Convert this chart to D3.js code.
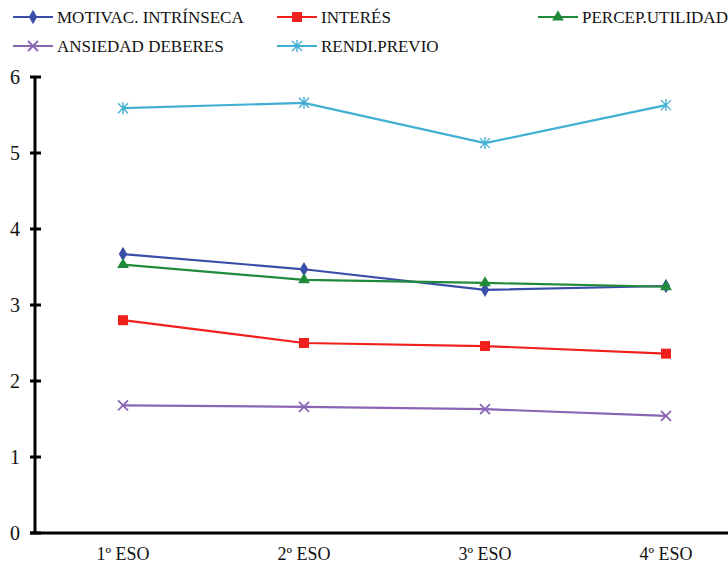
<!DOCTYPE html>
<html>
<head>
<meta charset="utf-8">
<script src="https://cdn.jsdelivr.net/npm/d3@7"></script>
<style>
  body { margin: 0; background: #fff; }
  svg { display: block; }
  svg text { font-family: "Times New Roman", "Liberation Serif", "DejaVu Serif", serif; }
</style>
</head>
<body>
<div id="chart"></div>
<script>
// data
let categories = ['1º ESO', '2º ESO', '3º ESO', '4º ESO'];
let seriesNames = ['MOTIVAC. INTRÍNSECA', 'INTERÉS', 'PERCEP.UTILIDAD', 'ANSIEDAD DEBERES', 'RENDI.PREVIO'];
let motivacion = [3.67, 3.47, 3.20, 3.25];
let interes = [2.80, 2.50, 2.46, 2.36];
let utilidad = [3.53, 3.33, 3.29, 3.24];
let ansiedad = [1.68, 1.66, 1.63, 1.54];
let rendimiento = [5.59, 5.66, 5.13, 5.63];
let yTicks = [0, 1, 2, 3, 4, 5, 6];

let seriesValues = [motivacion, interes, utilidad, ansiedad, rendimiento];
let seriesColors = ['#3a4ea8', '#f0211d', '#1f8a3a', '#8a65b4', '#41aed4'];
let seriesMarkers = ['diamond', 'square', 'triangle', 'x', 'star'];

let width = 728, height = 568;
let svg = d3.select('#chart').append('svg')
  .attr('width', width).attr('height', height);

let x = d3.scalePoint().domain(categories).range([123, 666]);
let y = d3.scaleLinear().domain([0, 6]).range([533, 77]);
let axisLeft = 35;

// y axis
svg.append('line')
  .attr('x1', axisLeft).attr('x2', axisLeft)
  .attr('y1', y(6)).attr('y2', y(0))
  .attr('stroke', '#000').attr('stroke-width', 3);
yTicks.forEach(function(t) {
  svg.append('line')
    .attr('x1', axisLeft - 5).attr('x2', axisLeft + 6)
    .attr('y1', y(t)).attr('y2', y(t))
    .attr('stroke', '#000').attr('stroke-width', 3);
  svg.append('text')
    .attr('x', 20).attr('y', y(t) + 7)
    .attr('text-anchor', 'end')
    .attr('font-size', 20)
    .attr('fill', '#111')
    .text(t);
});

// x axis
svg.append('line')
  .attr('x1', axisLeft - 5).attr('x2', width)
  .attr('y1', y(0)).attr('y2', y(0))
  .attr('stroke', '#000').attr('stroke-width', 3);
categories.forEach(function(c) {
  svg.append('text')
    .attr('x', x(c)).attr('y', 560)
    .attr('text-anchor', 'middle')
    .attr('font-size', 18)
    .attr('fill', '#111')
    .text(c);
});

function drawMarker(g, type, cx, cy, color) {
  if (type === 'diamond') {
    g.append('path').attr('d', d3.symbol(d3.symbolDiamond, 60)())
      .attr('transform', 'translate(' + cx + ',' + cy + ')').attr('fill', color);
  } else if (type === 'square') {
    g.append('rect').attr('x', cx - 5).attr('y', cy - 5).attr('width', 10).attr('height', 10).attr('fill', color);
  } else if (type === 'triangle') {
    g.append('path').attr('d', d3.symbol(d3.symbolTriangle, 60)())
      .attr('transform', 'translate(' + cx + ',' + cy + ')').attr('fill', color);
  } else if (type === 'x') {
    g.append('path').attr('d', 'M' + (cx - 5) + ',' + (cy - 5) + 'L' + (cx + 5) + ',' + (cy + 5) + 'M' + (cx - 5) + ',' + (cy + 5) + 'L' + (cx + 5) + ',' + (cy - 5))
      .attr('stroke', color).attr('stroke-width', 1.8).attr('fill', 'none');
  } else if (type === 'star') {
    g.append('path').attr('d', 'M' + (cx - 5) + ',' + (cy - 5) + 'L' + (cx + 5) + ',' + (cy + 5) + 'M' + (cx - 5) + ',' + (cy + 5) + 'L' + (cx + 5) + ',' + (cy - 5) + 'M' + cx + ',' + (cy - 6) + 'L' + cx + ',' + (cy + 6))
      .attr('stroke', color).attr('stroke-width', 1.4).attr('fill', 'none');
  }
}

let line = d3.line()
  .x(function(d, i) { return x(categories[i]); })
  .y(function(d) { return y(d); });

seriesValues.forEach(function(vals, s) {
  let g = svg.append('g');
  g.append('path')
    .attr('d', line(vals))
    .attr('fill', 'none')
    .attr('stroke', seriesColors[s])
    .attr('stroke-width', 2.2);
  vals.forEach(function(v, i) {
    drawMarker(g, seriesMarkers[s], x(categories[i]), y(v), seriesColors[s]);
  });
});

// legend
let legendPos = [[13, 17], [277, 17], [538, 17], [13, 46], [277, 46]];
seriesNames.forEach(function(name, s) {
  let lx = legendPos[s][0], ly = legendPos[s][1];
  let g = svg.append('g');
  g.append('line')
    .attr('x1', lx).attr('x2', lx + 40)
    .attr('y1', ly).attr('y2', ly)
    .attr('stroke', seriesColors[s]).attr('stroke-width', 2);
  drawMarker(g, seriesMarkers[s], lx + 20, ly, seriesColors[s]);
  g.append('text')
    .attr('x', lx + 44).attr('y', ly + 6)
    .attr('font-size', 17)
    .attr('fill', '#111')
    .text(name);
});
</script>
</body>
</html>
